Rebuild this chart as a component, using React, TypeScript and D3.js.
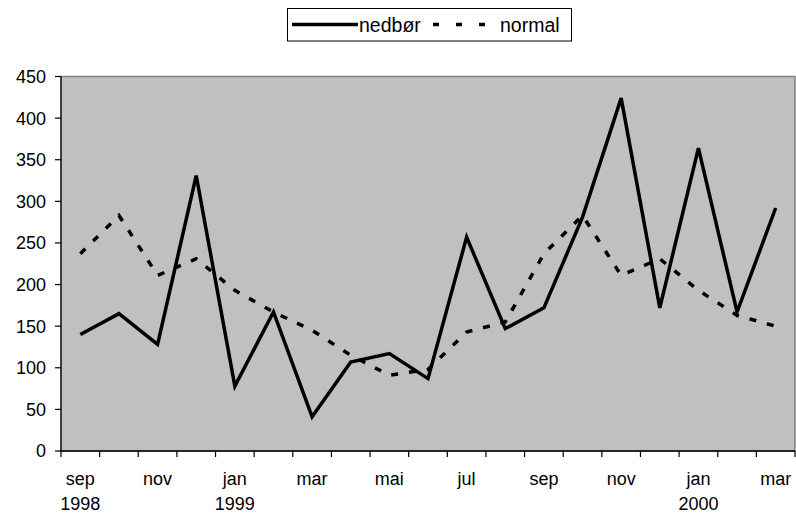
import React from 'react';
import * as d3 from 'd3';

// monthly precipitation, sep 1998 - mar 2000
const months = ['sep', 'okt', 'nov', 'des', 'jan', 'feb', 'mar', 'apr', 'mai', 'jun',
  'jul', 'aug', 'sep', 'okt', 'nov', 'des', 'jan', 'feb', 'mar'];
const years: { [i: number]: string } = { 0: '1998', 4: '1999', 16: '2000' };
const nedbor = [140, 165, 128, 331, 78, 167, 41, 107, 117, 87, 257, 147, 172, 281, 424, 172, 364, 167, 292];
const normal = [237, 283, 211, 231, 193, 167, 145, 115, 91, 98, 143, 155, 237, 283, 211, 231, 193, 163, 150];
const yTicks = [0, 50, 100, 150, 200, 250, 300, 350, 400, 450];

const W = 796;
const H = 516;
const margin = { top: 76.5, right: 1, bottom: 65, left: 61 };
const font = '"Liberation Sans", Arial, sans-serif';

const App: React.FC = () => {
  const x = d3.scaleBand<number>()
    .domain(d3.range(months.length))
    .range([margin.left, W - margin.right])
    .padding(0);
  const y = d3.scaleLinear().domain([0, 450]).range([H - margin.bottom, margin.top]);
  const cx = (i: number) => (x(i) as number) + x.bandwidth() / 2;

  const line = d3.line<number>()
    .x((_, i) => cx(i))
    .y(d => y(d));

  const x0 = margin.left;
  const x1 = W - margin.right;
  const y0 = y(0);
  const yTop = y(450);

  return (
    <svg width={W} height={H} style={{ position: 'absolute', left: 0, top: 0 }}
      fontFamily={font}>
      <rect x={0} y={0} width={W} height={H} fill="#fff" />

      {/* plot area */}
      <rect x={x0} y={yTop} width={x1 - x0} height={y0 - yTop} fill="#c0c0c0"
        stroke="#808080" strokeWidth={1.5} />

      {/* y axis */}
      <line x1={x0} x2={x0} y1={yTop} y2={y0} stroke="#000" strokeWidth={1.2} />
      {yTicks.map(t => (
        <g key={t}>
          <line x1={x0 - 6} x2={x0} y1={y(t)} y2={y(t)} stroke="#000" strokeWidth={1.2} />
          <text x={46} y={y(t)} dy="0.36em" textAnchor="end" fontSize={18}>{t}</text>
        </g>
      ))}

      {/* x axis */}
      <line x1={x0} x2={x1} y1={y0} y2={y0} stroke="#000" strokeWidth={1.5} />
      {d3.range(months.length + 1).map(i => {
        const tx = i < months.length ? (x(i) as number) : x1;
        return <line key={i} x1={tx} x2={tx} y1={y0} y2={y0 + 6} stroke="#000" strokeWidth={1.2} />;
      })}
      {months.map((m, i) => i % 2 === 0 ? (
        <g key={i}>
          <text x={cx(i)} y={485} textAnchor="middle" fontSize={18}>{m}</text>
          {years[i] && <text x={cx(i)} y={510} textAnchor="middle" fontSize={18}>{years[i]}</text>}
        </g>
      ) : null)}

      {/* series */}
      <path d={line(normal) as string} fill="none" stroke="#000" strokeWidth={3.5}
        strokeDasharray="7,11" />
      <path d={line(nedbor) as string} fill="none" stroke="#000" strokeWidth={3.5}
        strokeLinejoin="miter" />

      {/* legend */}
      <rect x={287.5} y={8.5} width={284} height={32.5} fill="#fff" stroke="#000" strokeWidth={1} />
      <line x1={292} x2={358} y1={24.5} y2={24.5} stroke="#000" strokeWidth={3.5} />
      <text x={359} y={31.5} fontSize={19.5}>nedbør</text>
      <line x1={433} x2={490} y1={24.5} y2={24.5} stroke="#000" strokeWidth={3.5}
        strokeDasharray="6,17" />
      <text x={500} y={31.5} fontSize={19.5}>normal</text>
    </svg>
  );
};

export default App;
